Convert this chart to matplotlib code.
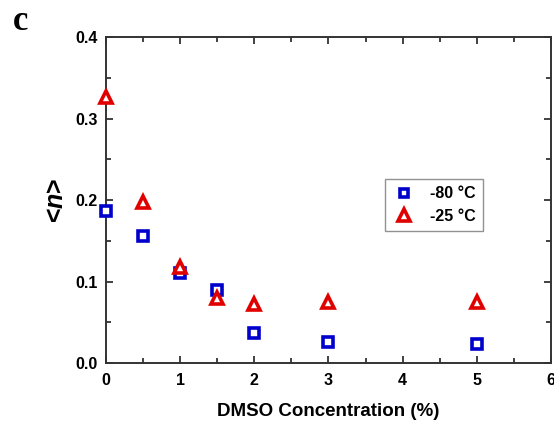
import matplotlib.pyplot as plt
from matplotlib.ticker import MultipleLocator

plt.rcParams['font.family'] = 'Liberation Sans'
plt.rcParams['font.weight'] = 'bold'
plt.rcParams['mathtext.fontset'] = 'custom'
plt.rcParams['mathtext.it'] = 'Liberation Sans:italic:bold'

# mean occupancy vs DMSO concentration
conc = [0, 0.5, 1, 1.5, 2, 3, 5]
n_m80 = [0.187, 0.156, 0.110, 0.090, 0.037, 0.026, 0.023]
n_m25 = [0.327, 0.198, 0.118, 0.080, 0.072, 0.075, 0.075]

fig = plt.figure(figsize=(5.54, 4.23), dpi=100)
ax = fig.add_axes([0.191, 0.1418, 0.8036, 0.7707])

ax.plot(conc, n_m80, linestyle='none', marker='s', markersize=6.8,
        markerfacecolor='white', markeredgecolor='#0000cc', markeredgewidth=2.6,
        label='-80 °C', clip_on=False, zorder=3)
ax.plot(conc, n_m25, linestyle='none', marker='^', markersize=8.5,
        markerfacecolor='white', markeredgecolor='#e00000', markeredgewidth=2.6,
        label='-25 °C', clip_on=False, zorder=3)

ax.set_xlim(0, 6)
ax.set_ylim(0, 0.4)
ax.xaxis.set_major_locator(MultipleLocator(1))
ax.xaxis.set_minor_locator(MultipleLocator(0.5))
ax.yaxis.set_major_locator(MultipleLocator(0.1))
ax.yaxis.set_minor_locator(MultipleLocator(0.05))
ax.yaxis.set_major_formatter(lambda v, p: f'{v:.1f}')

ax.tick_params(which='both', direction='in', top=True, right=True,
               width=1.3, color='#333333', labelsize=11.5)
ax.tick_params(axis='y', pad=6)
ax.tick_params(axis='x', pad=7)
ax.tick_params(which='major', length=5)
ax.tick_params(which='minor', length=3.5)
for s in ax.spines.values():
    s.set_linewidth(1.4)
    s.set_color('#333333')

ax.set_xlabel('DMSO Concentration (%)', fontsize=13.5, fontweight='bold', labelpad=11)
ax.set_ylabel('<$n$>', fontsize=18, fontweight='bold', labelpad=5)

leg = ax.legend(loc='upper left', bbox_to_anchor=(0.627, 0.564), borderaxespad=0,
                frameon=True, fancybox=False, fontsize=11.5, handletextpad=0.9,
                borderpad=0.45, handlelength=1.5, labelspacing=0.45,
                markerscale=0.95)
leg.get_frame().set_edgecolor('#777777')
leg.get_frame().set_linewidth(1.0)

fig.text(0.0235, 0.929, 'c', family='Liberation Serif', fontsize=25,
         fontweight='bold', va='baseline')

fig.savefig('out.png', dpi=100)
